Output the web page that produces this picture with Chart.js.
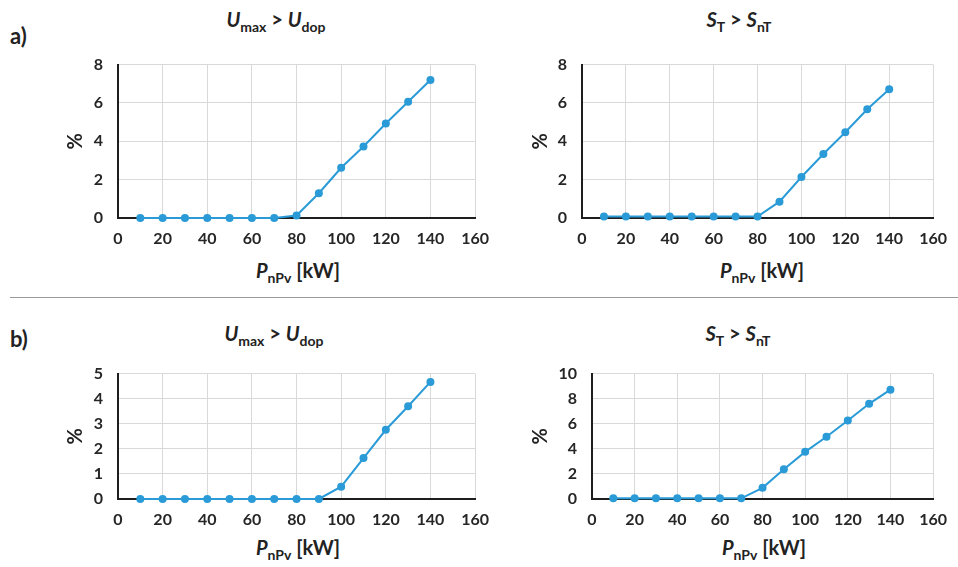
<!DOCTYPE html>
<html>
<head>
<meta charset="utf-8">
<script src="https://cdn.jsdelivr.net/npm/chart.js@4/dist/chart.umd.min.js"></script>
<style>
  html, body { margin: 0; padding: 0; background: #fff; width: 958px; height: 567px; overflow: hidden; }
  body { position: relative; font-family: Lato, "Noto Sans", sans-serif; color: #222; }
  canvas { position: absolute; }
  .lbl { position: absolute; font-weight: bold; white-space: nowrap; }
  .panel { font-size: 22px; line-height: 22px; left: 10px; }
  .ttl { font-size: 20px; line-height: 20px; transform: translateX(-50%); }
  .ttl i { font-style: italic; }
  .ttl sub { font-size: 14px; vertical-align: -5px; line-height: 0; }
  .sep { position: absolute; left: 10px; top: 297px; width: 948px; height: 1px; background: #9a9a9a; }
</style>
</head>
<body>
<div class="lbl panel" style="top:25px">a)</div>
<div class="lbl panel" style="top:328px">b)</div>
<div class="sep"></div>

<div class="lbl ttl" style="left:276px; top:9px"><i>U</i><sub>max</sub> &gt; <i>U</i><sub>dop</sub></div>
<div class="lbl ttl" style="left:739px; top:9px"><i>S</i><sub>T</sub> &gt; <i>S</i><sub>nT</sub></div>
<div class="lbl ttl" style="left:274px; top:323px"><i>U</i><sub>max</sub> &gt; <i>U</i><sub>dop</sub></div>
<div class="lbl ttl" style="left:738px; top:323px"><i>S</i><sub>T</sub> &gt; <i>S</i><sub>nT</sub></div>

<div class="lbl ttl" style="left:298px; top:260px"><i>P</i><sub>nPv</sub> [kW]</div>
<div class="lbl ttl" style="left:762px; top:260px"><i>P</i><sub>nPv</sub> [kW]</div>
<div class="lbl ttl" style="left:298px; top:537px"><i>P</i><sub>nPv</sub> [kW]</div>
<div class="lbl ttl" style="left:764px; top:537px"><i>P</i><sub>nPv</sub> [kW]</div>

<canvas id="aU"></canvas>
<canvas id="aS"></canvas>
<canvas id="bU"></canvas>
<canvas id="bS"></canvas>

<script>
// installed PV power [kW]
const pnpv = [10, 20, 30, 40, 50, 60, 70, 80, 90, 100, 110, 120, 130, 140];

// share of time [%]
const aVoltage = [0, 0, 0, 0, 0, 0, 0, 0.13, 1.29, 2.62, 3.73, 4.93, 6.06, 7.2];
const aTrafo   = [0.08, 0.08, 0.08, 0.08, 0.08, 0.08, 0.08, 0.08, 0.85, 2.14, 3.34, 4.47, 5.67, 6.72];
const bVoltage = [0, 0, 0, 0, 0, 0, 0, 0, 0, 0.49, 1.63, 2.76, 3.7, 4.67];
const bTrafo   = [0.05, 0.05, 0.05, 0.05, 0.05, 0.05, 0.05, 0.89, 2.38, 3.76, 4.96, 6.26, 7.59, 8.72];

const xMax = 160, xStep = 20;

const blue = '#2a9bd7';
const tickFont = { family: 'Lato', size: 16, weight: 'bold' };

function makeChart(id, box, values, yMax, yStep) {
    const cv = document.getElementById(id);
    cv.width = box.w;
    cv.height = box.h;
    cv.style.left = box.x + 'px';
    cv.style.top = box.y + 'px';

    return new Chart(cv, {
        type: 'line',
        data: {
            datasets: [{
                data: pnpv.map((x, i) => ({ x: x, y: values[i] })),
                borderColor: blue,
                backgroundColor: blue,
                borderWidth: 2,
                pointRadius: 4,
                pointHoverRadius: 4,
                pointBorderWidth: 0,
                clip: false
            }]
        },
        options: {
            responsive: false,
            animation: false,
            events: [],
            layout: { padding: { left: 0, top: box.pt, right: box.pr, bottom: 0 } },
            plugins: { legend: { display: false }, tooltip: { enabled: false } },
            scales: {
                x: {
                    type: 'linear', min: 0, max: xMax,
                    ticks: { stepSize: xStep, padding: 11, font: tickFont, color: '#262626', maxRotation: 0 },
                    grid: { color: '#d9d9d9', drawTicks: false },
                    border: { color: '#1e1e1e', width: 2 },
                    afterFit: s => { s.height = 30; }
                },
                y: {
                    min: 0, max: yMax,
                    ticks: { stepSize: yStep, padding: 15, font: tickFont, color: '#262626' },
                    grid: { color: '#d9d9d9', drawTicks: false },
                    border: { color: '#1e1e1e', width: 2 },
                    title: {
                        display: true, text: '%', color: '#222',
                        font: { family: 'Lato', size: 20, weight: 'bold' },
                        padding: { top: box.tp, bottom: 0 }
                    },
                    afterFit: s => { s.width = box.yw; }
                }
            }
        }
    });
}

makeChart('aU', { x: 60, y: 40, w: 440, h: 208, pt: 12, pr: 22, yw: 58, tp: 4 }, aVoltage, 8, 2);
makeChart('aS', { x: 520, y: 40, w: 438, h: 208, pt: 12, pr: 16, yw: 62, tp: 9 }, aTrafo, 8, 2);
makeChart('bU', { x: 60, y: 349, w: 440, h: 180, pt: 12, pr: 22, yw: 58, tp: 4 }, bVoltage, 5, 1);
makeChart('bS', { x: 520, y: 349, w: 438, h: 180, pt: 12, pr: 16, yw: 72, tp: 9 }, bTrafo, 10, 2);
</script>
</body>
</html>
